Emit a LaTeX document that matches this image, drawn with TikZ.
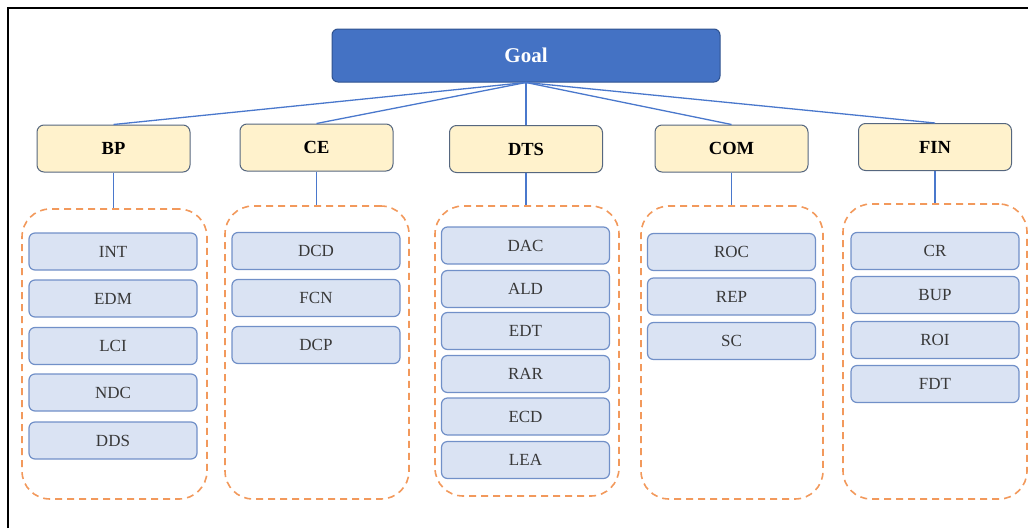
\documentclass[tikz,border=0pt]{standalone}
\usepackage{fontspec}
\setmainfont{Liberation Serif}
\definecolor{goalfill}{HTML}{4472C4}
\definecolor{goalline}{HTML}{2F528F}
\definecolor{headfill}{HTML}{FFF2CC}
\definecolor{headline}{HTML}{56677F}
\definecolor{itemfill}{HTML}{DAE3F3}
\definecolor{itemline}{HTML}{7190C8}
\definecolor{grpline}{HTML}{F2995C}
\definecolor{linkline}{HTML}{4A78CC}
\tikzset{
  goalbox/.style={draw=goalline, fill=goalfill, line width=1pt, rounded corners=6pt,
    minimum width=388pt, minimum height=53pt, inner sep=0pt,
    text=white, font=\fontsize{21}{24}\selectfont\bfseries},
  headbox/.style={draw=headline, fill=headfill, line width=1pt, rounded corners=7pt,
    minimum width=153pt, minimum height=47pt, inner sep=0pt,
    font=\fontsize{18.5}{22}\selectfont\bfseries},
  itembox/.style={draw=itemline, fill=itemfill, line width=1.2pt, rounded corners=6pt,
    minimum width=168pt, minimum height=37pt, inner sep=0pt,
    text=black!78, font=\fontsize{17}{20}\selectfont},
  grpbox/.style={draw=grpline, line width=1.6pt, dash pattern=on 7pt off 5pt,
    rounded corners=28pt, inner sep=0pt},
  link/.style={draw=linkline, line width=1.3pt}
}
\begin{document}
\begin{tikzpicture}[x=1pt, y=-1pt]
  \useasboundingbox (0,0) rectangle (1028,528);
  % frame
  \draw[line width=2pt] (8,528) -- (8,8) -- (1028,8);

  \node (Goal) at (526,55.5) [goalbox] {Goal};

  % criteria
  \node (BP) at (113.5,148.5) [headbox] {BP};
  \node (CE) at (316.5,147.5) [headbox] {CE};
  \node (DTS) at (526,149) [headbox] {DTS};
  \node (COM) at (731.5,148.5) [headbox] {COM};
  \node (FIN) at (935,147) [headbox] {FIN};

  % groups
  \node (gBP) at (114.5,354) [grpbox, minimum width=185pt, minimum height=290pt] {};
  \node (gCE) at (317,352.5) [grpbox, minimum width=184pt, minimum height=293pt] {};
  \node (gDTS) at (527,351) [grpbox, minimum width=184pt, minimum height=290pt] {};
  \node (gCOM) at (732,352.5) [grpbox, minimum width=182pt, minimum height=293pt] {};
  \node (gFIN) at (935,351.5) [grpbox, minimum width=184pt, minimum height=295pt] {};

  % BP items
  \node (INT) at (113,251.5) [itembox] {INT};
  \node (EDM) at (113,298.5) [itembox] {EDM};
  \node (LCI) at (113,346) [itembox] {LCI};
  \node (NDC) at (113,392.5) [itembox] {NDC};
  \node (DDS) at (113,440.5) [itembox] {DDS};
  % CE items
  \node (DCD) at (316,251) [itembox] {DCD};
  \node (FCN) at (316,298) [itembox] {FCN};
  \node (DCP) at (316,345) [itembox] {DCP};
  % DTS items
  \node (DAC) at (525.5,245.5) [itembox] {DAC};
  \node (ALD) at (525.5,289) [itembox] {ALD};
  \node (EDT) at (525.5,331) [itembox] {EDT};
  \node (RAR) at (525.5,374) [itembox] {RAR};
  \node (ECD) at (525.5,416.5) [itembox] {ECD};
  \node (LEA) at (525.5,460) [itembox] {LEA};
  % COM items
  \node (ROC) at (731.5,252) [itembox] {ROC};
  \node (REP) at (731.5,296.5) [itembox] {REP};
  \node (SC) at (731.5,341) [itembox] {SC};
  % FIN items
  \node (CR) at (935,251) [itembox] {CR};
  \node (BUP) at (935,295) [itembox] {BUP};
  \node (ROI) at (935,340) [itembox] {ROI};
  \node (FDT) at (935,384) [itembox] {FDT};

  % links
  \draw[link] (Goal.south) -- (BP.north);
  \draw[link] (Goal.south) -- (CE.north);
  \draw[link] (Goal.south) -- (DTS.north);
  \draw[link] (Goal.south) -- (COM.north);
  \draw[link] (Goal.south) -- (FIN.north);
  \draw[link] (BP.south) -- (BP.south |- gBP.north);
  \draw[link] (CE.south) -- (CE.south |- gCE.north);
  \draw[link] (DTS.south) -- (DTS.south |- gDTS.north);
  \draw[link] (COM.south) -- (COM.south |- gCOM.north);
  \draw[link] (FIN.south) -- (FIN.south |- gFIN.north);
\end{tikzpicture}
\end{document}
